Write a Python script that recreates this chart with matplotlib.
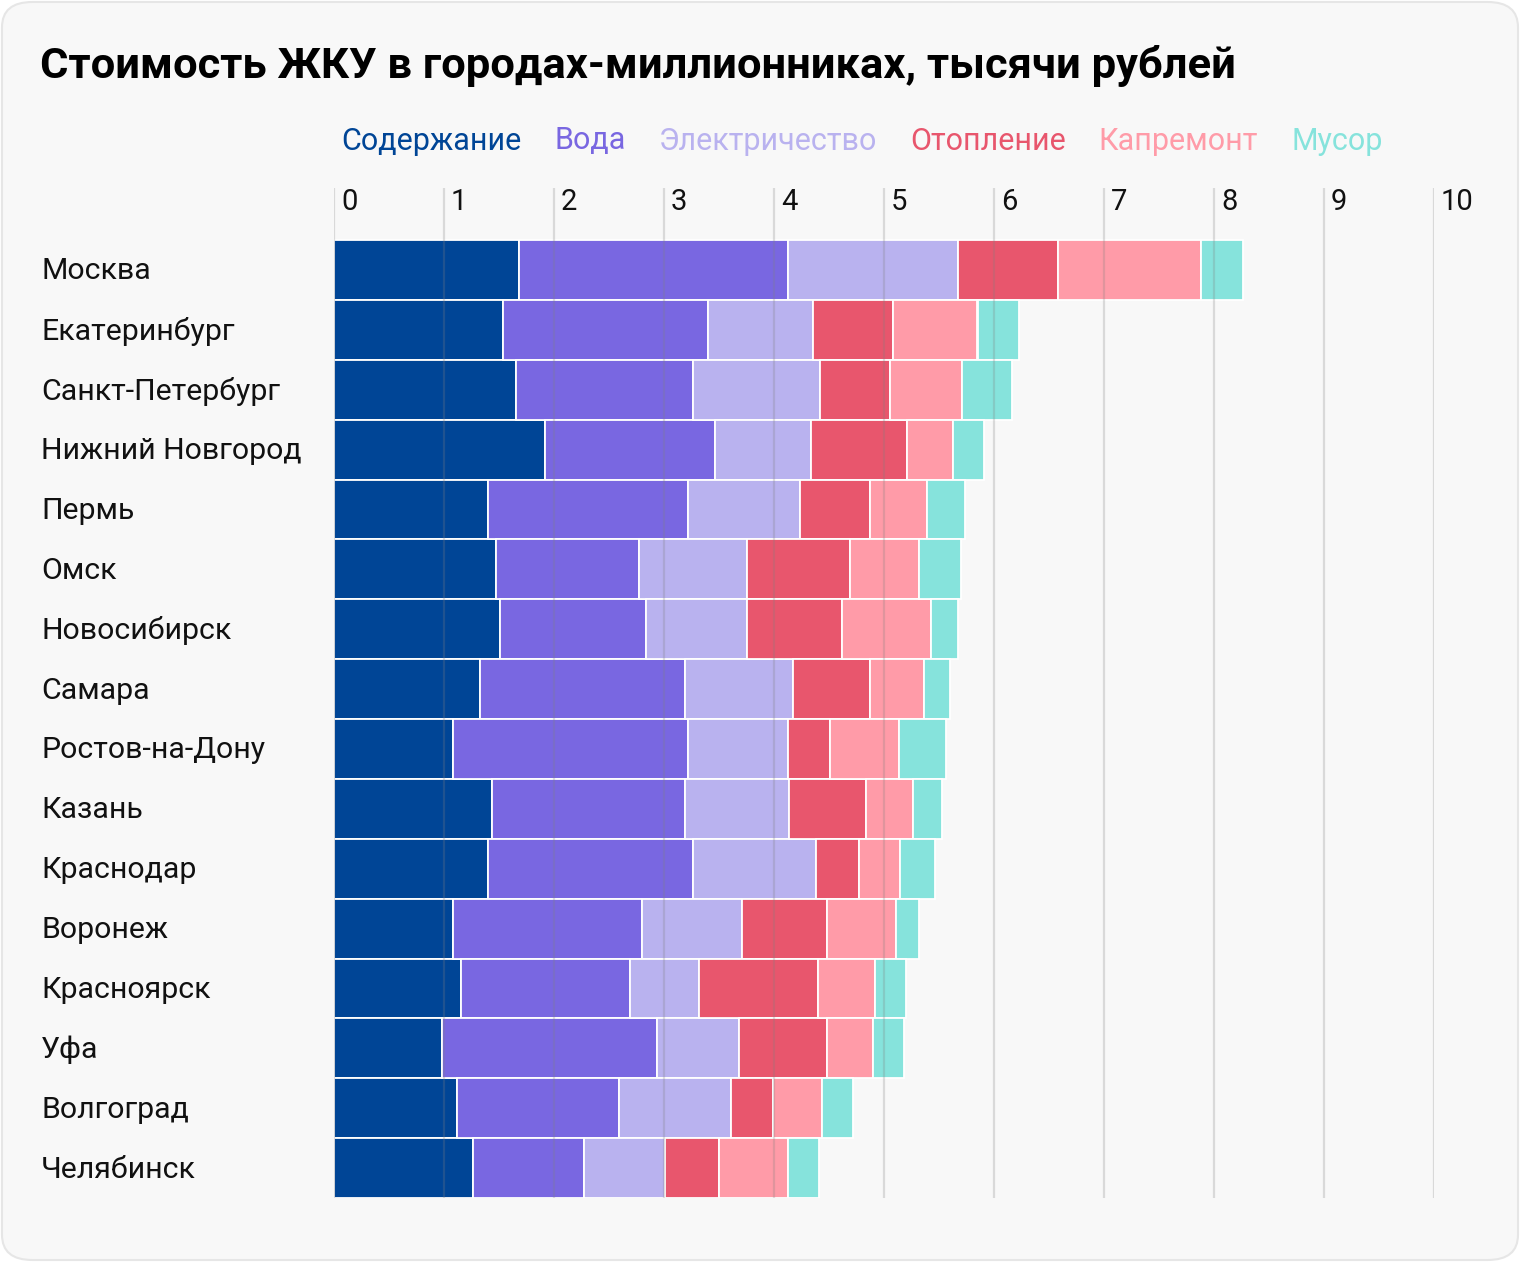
import numpy as np
import matplotlib
matplotlib.use("Agg")
import matplotlib.pyplot as plt
from matplotlib.patches import FancyBboxPatch
from matplotlib.transforms import blended_transform_factory, offset_copy

#------------------------------------------#
# Donnees
#------------------------------------------#
cities = ["Москва", "Екатеринбург", "Санкт-Петербург", "Нижний Новгород",
          "Пермь", "Омск", "Новосибирск", "Самара", "Ростов-на-Дону",
          "Казань", "Краснодар", "Воронеж", "Красноярск", "Уфа",
          "Волгоград", "Челябинск"]

categories = ["Содержание", "Вода", "Электричество", "Отопление",
              "Капремонт", "Мусор"]

soderzhanie = [1.68, 1.54, 1.65, 1.92, 1.40, 1.47, 1.51, 1.33, 1.08, 1.44,
               1.40, 1.08, 1.15, 0.98, 1.12, 1.26]
voda = [2.45, 1.86, 1.61, 1.54, 1.82, 1.30, 1.33, 1.86, 2.14, 1.75,
        1.86, 1.72, 1.54, 1.96, 1.47, 1.01]
elektro = [1.54, 0.95, 1.16, 0.88, 1.02, 0.98, 0.91, 0.98, 0.91, 0.95,
           1.12, 0.91, 0.63, 0.74, 1.02, 0.74]
otoplenie = [0.91, 0.73, 0.63, 0.87, 0.63, 0.94, 0.87, 0.70, 0.38, 0.70,
             0.39, 0.77, 1.08, 0.80, 0.38, 0.49]
kapremont = [1.30, 0.77, 0.66, 0.42, 0.52, 0.63, 0.81, 0.49, 0.63, 0.42,
             0.38, 0.63, 0.52, 0.42, 0.45, 0.63]
musor = [0.38, 0.38, 0.45, 0.28, 0.35, 0.38, 0.24, 0.24, 0.42, 0.27,
         0.31, 0.21, 0.28, 0.28, 0.28, 0.28]

series = [soderzhanie, voda, elektro, otoplenie, kapremont, musor]
colors = ["#004596", "#7967E1", "#B9B2EF", "#E8566D", "#FF9BA8", "#86E3DC"]

x_ticks = list(range(0, 11))

#------------------------------------------#
# Figure
#------------------------------------------#
plt.rcParams['font.family'] = ['Roboto', 'DejaVu Sans']

W, H = 1520, 1262
fig = plt.figure(figsize=(W / 100, H / 100), dpi=100)
fig.patch.set_facecolor("white")

card = FancyBboxPatch((2 / W, 2 / H), (W - 4) / W, (H - 4) / H,
                      boxstyle="round,pad=0,rounding_size=0.02",
                      transform=fig.transFigure, facecolor="#F8F8F8",
                      edgecolor="#E6E6E6", linewidth=1.5, zorder=-5)
fig.patches.append(card)

ax_left, ax_right = 334, 1434
ax_top, ax_bottom = 188, 1198
ax = fig.add_axes([ax_left / W, 1 - ax_bottom / H,
                   (ax_right - ax_left) / W, (ax_bottom - ax_top) / H])
ax.set_facecolor("none")
ax.set_zorder(2)

row_h = (ax_bottom - 240) / len(cities)
top_extra = (240 - ax_top) / row_h

y = np.arange(len(cities))
left = np.zeros(len(cities))
for vals, col in zip(series, colors):
    ax.barh(y, vals, left=left, height=1.0, color=col,
            edgecolor="white", linewidth=1.3, zorder=2)
    left += np.array(vals)

ax.set_xlim(0, 10)
ax.set_ylim(len(cities) - 0.5, -0.5 - top_extra)

for t in x_ticks:
    ax.axvline(t, color="#808080", alpha=0.25, linewidth=1.6, zorder=3)
    ax.annotate(str(t), xy=(t, -0.5 - top_extra), xytext=(5, 0),
                textcoords="offset points", ha="left", va="top",
                fontsize=21, color="#111111", annotation_clip=False)

for s in ax.spines.values():
    s.set_visible(False)
ax.set_xticks([])
ax.set_yticks([])

# noms des villes
tr = blended_transform_factory(fig.transFigure, ax.transData)
tr = offset_copy(tr, fig=fig, x=0, y=-1.5, units="dots")
for i, c in enumerate(cities):
    ax.text(41 / W, i, c, transform=tr, ha="left", va="center",
            fontsize=21.8, color="#111111", clip_on=False)

# titre
fig.text(40 / W, 1 - 66 / H, "Стоимость ЖКУ в городах-миллионниках, тысячи рублей",
         ha="left", va="center", fontsize=31.3, fontweight="bold", color="black")

# legende
fig.canvas.draw()
renderer = fig.canvas.get_renderer()
x_pos = 341
for cat, col in zip(categories, colors):
    t = fig.text(x_pos / W, 1 - 141 / H, cat, ha="left", va="center",
                 fontsize=22, color=col)
    bb = t.get_window_extent(renderer=renderer)
    x_pos += bb.width + 33

fig.savefig("out.png", dpi=100, facecolor="white")
